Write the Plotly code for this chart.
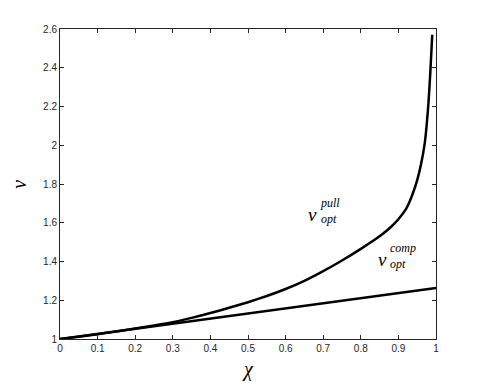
import plotly.graph_objects as go

# data
chi_pull = [0.0, 0.05, 0.1, 0.15, 0.2, 0.25, 0.3, 0.35, 0.4, 0.45, 0.5, 0.55, 0.6,
            0.65, 0.7, 0.75, 0.8, 0.85, 0.88, 0.9, 0.92, 0.93, 0.94, 0.95, 0.96,
            0.97, 0.975, 0.98, 0.985, 0.99]
nu_pull = [1.0, 1.012, 1.025, 1.039, 1.054, 1.07, 1.087, 1.109, 1.134, 1.161, 1.19,
           1.222, 1.258, 1.3, 1.35, 1.405, 1.465, 1.53, 1.578, 1.618, 1.67, 1.71,
           1.76, 1.82, 1.9, 2.01, 2.1, 2.22, 2.38, 2.57]

chi_comp = [0.0, 0.1, 0.2, 0.3, 0.4, 0.5, 0.6, 0.7, 0.8, 0.9, 1.0]
nu_comp = [1.0, 1.026, 1.052, 1.079, 1.105, 1.131, 1.158, 1.184, 1.21, 1.237, 1.263]

x_ticks = [0, 0.1, 0.2, 0.3, 0.4, 0.5, 0.6, 0.7, 0.8, 0.9, 1]
x_tick_text = ["0", "0.1", "0.2", "0.3", "0.4", "0.5", "0.6", "0.7", "0.8", "0.9", "1"]
y_ticks = [1, 1.2, 1.4, 1.6, 1.8, 2, 2.2, 2.4, 2.6]
y_tick_text = ["1", "1.2", "1.4", "1.6", "1.8", "2", "2.2", "2.4", "2.6"]

fig = go.Figure()
fig.add_trace(go.Scatter(x=chi_pull, y=nu_pull, mode="lines",
                         line=dict(color="black", width=2.5, shape="spline", smoothing=0.5),
                         showlegend=False, hoverinfo="skip"))
fig.add_trace(go.Scatter(x=chi_comp, y=nu_comp, mode="lines",
                         line=dict(color="black", width=2.5),
                         showlegend=False, hoverinfo="skip"))

tickfont = dict(family="Liberation Sans, Arial, sans-serif", size=10, color="#262626")
axis_common = dict(showgrid=False, zeroline=False, ticks="inside", ticklen=4,
                   tickcolor="#262626", linecolor="#262626", linewidth=1,
                   mirror="ticks", showline=True, tickfont=tickfont)

fig.update_xaxes(range=[0, 1], tickvals=x_ticks, ticktext=x_tick_text, **axis_common)
fig.update_yaxes(range=[1, 2.6], tickvals=y_ticks, ticktext=y_tick_text, **axis_common)

serif = "Liberation Serif, DejaVu Serif, serif"
ann = []
# axis titles
ann.append(dict(x=0.5, y=-0.055, xref="paper", yref="paper", text="<i>χ</i>",
                showarrow=False, xanchor="center", yanchor="top",
                font=dict(family=serif, size=20, color="black")))
ann.append(dict(x=-0.075, y=0.5, xref="paper", yref="paper", text="<i>ν</i>",
                showarrow=False, xanchor="right", yanchor="middle", textangle=-90,
                font=dict(family=serif, size=20, color="black")))


# curve labels: nu with stacked sup/subscripts (one two-line block)
def label(xv, yv, sup, sub):
    ann.append(dict(x=xv, y=yv, xref="x", yref="y", text="<i>ν</i>", showarrow=False,
                    xanchor="right", yanchor="middle", xshift=1,
                    font=dict(family=serif, size=19, color="black")))
    ann.append(dict(x=xv, y=yv + 0.018, xref="x", yref="y",
                    text="<i>" + sup + "</i><br><i>" + sub + "</i>",
                    showarrow=False, xanchor="left", yanchor="middle", xshift=0,
                    align="left",
                    font=dict(family=serif, size=12, color="black")))


label(0.686, 1.645, "pull", "opt")
label(0.872, 1.41, "comp", "opt")
fig.update_layout(annotations=ann)

fig.update_layout(width=484, height=382, margin=dict(l=60, r=48, t=29, b=43),
                  plot_bgcolor="white", paper_bgcolor="white")

fig.write_html("out.html", config={"displayModeBar": False},
               post_script="document.body.style.margin='0';document.body.style.overflow='hidden';")
